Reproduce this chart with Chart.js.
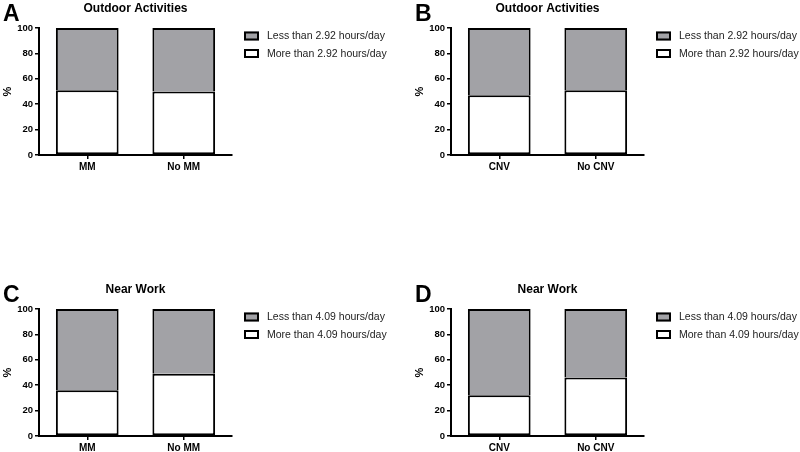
<!DOCTYPE html>
<html>
<head>
<meta charset="utf-8">
<script src="https://cdn.jsdelivr.net/npm/chart.js@4"></script>
<style>
  body { margin: 0; background: #fff; }
  #root { position: relative; width: 800px; height: 452px; overflow: hidden; }
  .panel { position: absolute; width: 400px; height: 175px; }
</style>
</head>
<body>
<div id="root">
  <div class="panel" style="left:0px;top:0px"><canvas id="chartA"></canvas></div>
  <div class="panel" style="left:412px;top:0px"><canvas id="chartB"></canvas></div>
  <div class="panel" style="left:0px;top:281px"><canvas id="chartC"></canvas></div>
  <div class="panel" style="left:412px;top:281px"><canvas id="chartD"></canvas></div>
</div>
<script>
// categorias
const gruposMM = ["MM", "No MM"];
const gruposCNV = ["CNV", "No CNV"];

// % de sujetos (blanco = mas que el umbral, gris = menos)
const outdoorMasMM = [51, 50];
const outdoorMenosMM = [49, 50];
const outdoorMasCNV = [47, 51];
const outdoorMenosCNV = [53, 49];
const nearMasMM = [36, 49];
const nearMenosMM = [64, 51];
const nearMasCNV = [32, 46];
const nearMenosCNV = [68, 54];

const yTicks = [0, 20, 40, 60, 80, 100];

const GRIS = "#a2a2a6";
const fuente = "'Liberation Sans', Arial, sans-serif";

// letra del panel, titulo centrado sobre el area y leyenda a la derecha
const textoPanel = {
  id: "textoPanel",
  afterDraw(chart, args, opts) {
    const ctx = chart.ctx;
    const area = chart.chartArea;
    ctx.save();
    ctx.fillStyle = "#000";
    ctx.textBaseline = "alphabetic";
    ctx.textAlign = "left";
    ctx.font = `bold 23px ${fuente}`;
    ctx.fillText(opts.letra, 3, 21);
    ctx.textAlign = "center";
    ctx.textBaseline = "middle";
    ctx.font = `bold 12px ${fuente}`;
    ctx.fillText(opts.titulo, (area.left + area.right) / 2, 9);

    // leyenda (orden inverso: gris primero)
    const items = [...chart.data.datasets].reverse();
    ctx.font = `10.5px ${fuente}`;
    ctx.textAlign = "left";
    items.map((ds, i) => {
      const x = area.right + 12;
      const y = area.top + 3.5 + i * 17.5;
      ctx.fillStyle = ds.backgroundColor;
      ctx.fillRect(x, y, 15, 9);
      ctx.strokeStyle = "#000";
      ctx.lineWidth = 2;
      ctx.strokeRect(x + 1, y + 1, 13, 7);
      ctx.fillStyle = "#222";
      ctx.fillText(ds.label, x + 23, y + 5);
    });
    ctx.restore();
  },
};

const crearGrafica = (id, letra, titulo, grupos, mas, menos, horas) => {
  const ctx = document.getElementById(id);
  new Chart(ctx, {
    type: "bar",
    data: {
      labels: [...grupos],
      datasets: [
        {
          label: `More than ${horas} hours/day`,
          data: [...mas],
          backgroundColor: "#ffffff",
          borderColor: "#000",
          borderWidth: { left: 2, right: 2, bottom: 2, top: 2 },
          borderSkipped: false,
          barPercentage: 0.65,
          categoryPercentage: 1,
        },
        {
          label: `Less than ${horas} hours/day`,
          data: [...menos],
          backgroundColor: GRIS,
          borderColor: "#000",
          borderWidth: { left: 2, right: 2, bottom: 0, top: 2 },
          borderSkipped: false,
          barPercentage: 0.65,
          categoryPercentage: 1,
        },
      ],
    },
    options: {
      responsive: true,
      maintainAspectRatio: false,
      animation: false,
      layout: { padding: { top: 28, left: 0, right: 168, bottom: 0 } },
      scales: {
        x: {
          stacked: true,
          afterFit: (scale) => { scale.height = 20; },
          grid: { offset: false, drawOnChartArea: false, drawTicks: true, tickLength: 4, color: "#000", lineWidth: 1.5 },
          border: { color: "#000", width: 2 },
          ticks: { color: "#000", padding: 2, font: { family: fuente, size: 10, weight: "bold" } },
        },
        y: {
          stacked: true,
          min: 0,
          max: 100,
          afterFit: (scale) => { scale.width = 39; },
          afterBuildTicks: (scale) => { scale.ticks = yTicks.map((v) => ({ value: v })); },
          grid: { drawOnChartArea: false, drawTicks: true, tickLength: 4, color: "#000", lineWidth: 1.5 },
          border: { color: "#000", width: 2 },
          ticks: { color: "#000", padding: 2, font: { family: fuente, size: 9.5, weight: "bold" } },
          title: { display: true, text: "%", color: "#000", padding: 1, font: { family: fuente, size: 11, weight: "bold" } },
        },
      },
      plugins: {
        legend: { display: false },
        tooltip: { enabled: false },
        textoPanel: { letra: letra, titulo: titulo },
      },
    },
    plugins: [textoPanel],
  });
};

crearGrafica("chartA", "A", "Outdoor Activities", gruposMM, outdoorMasMM, outdoorMenosMM, "2.92");
crearGrafica("chartB", "B", "Outdoor Activities", gruposCNV, outdoorMasCNV, outdoorMenosCNV, "2.92");
crearGrafica("chartC", "C", "Near Work", gruposMM, nearMasMM, nearMenosMM, "4.09");
crearGrafica("chartD", "D", "Near Work", gruposCNV, nearMasCNV, nearMenosCNV, "4.09");
</script>
</body>
</html>
